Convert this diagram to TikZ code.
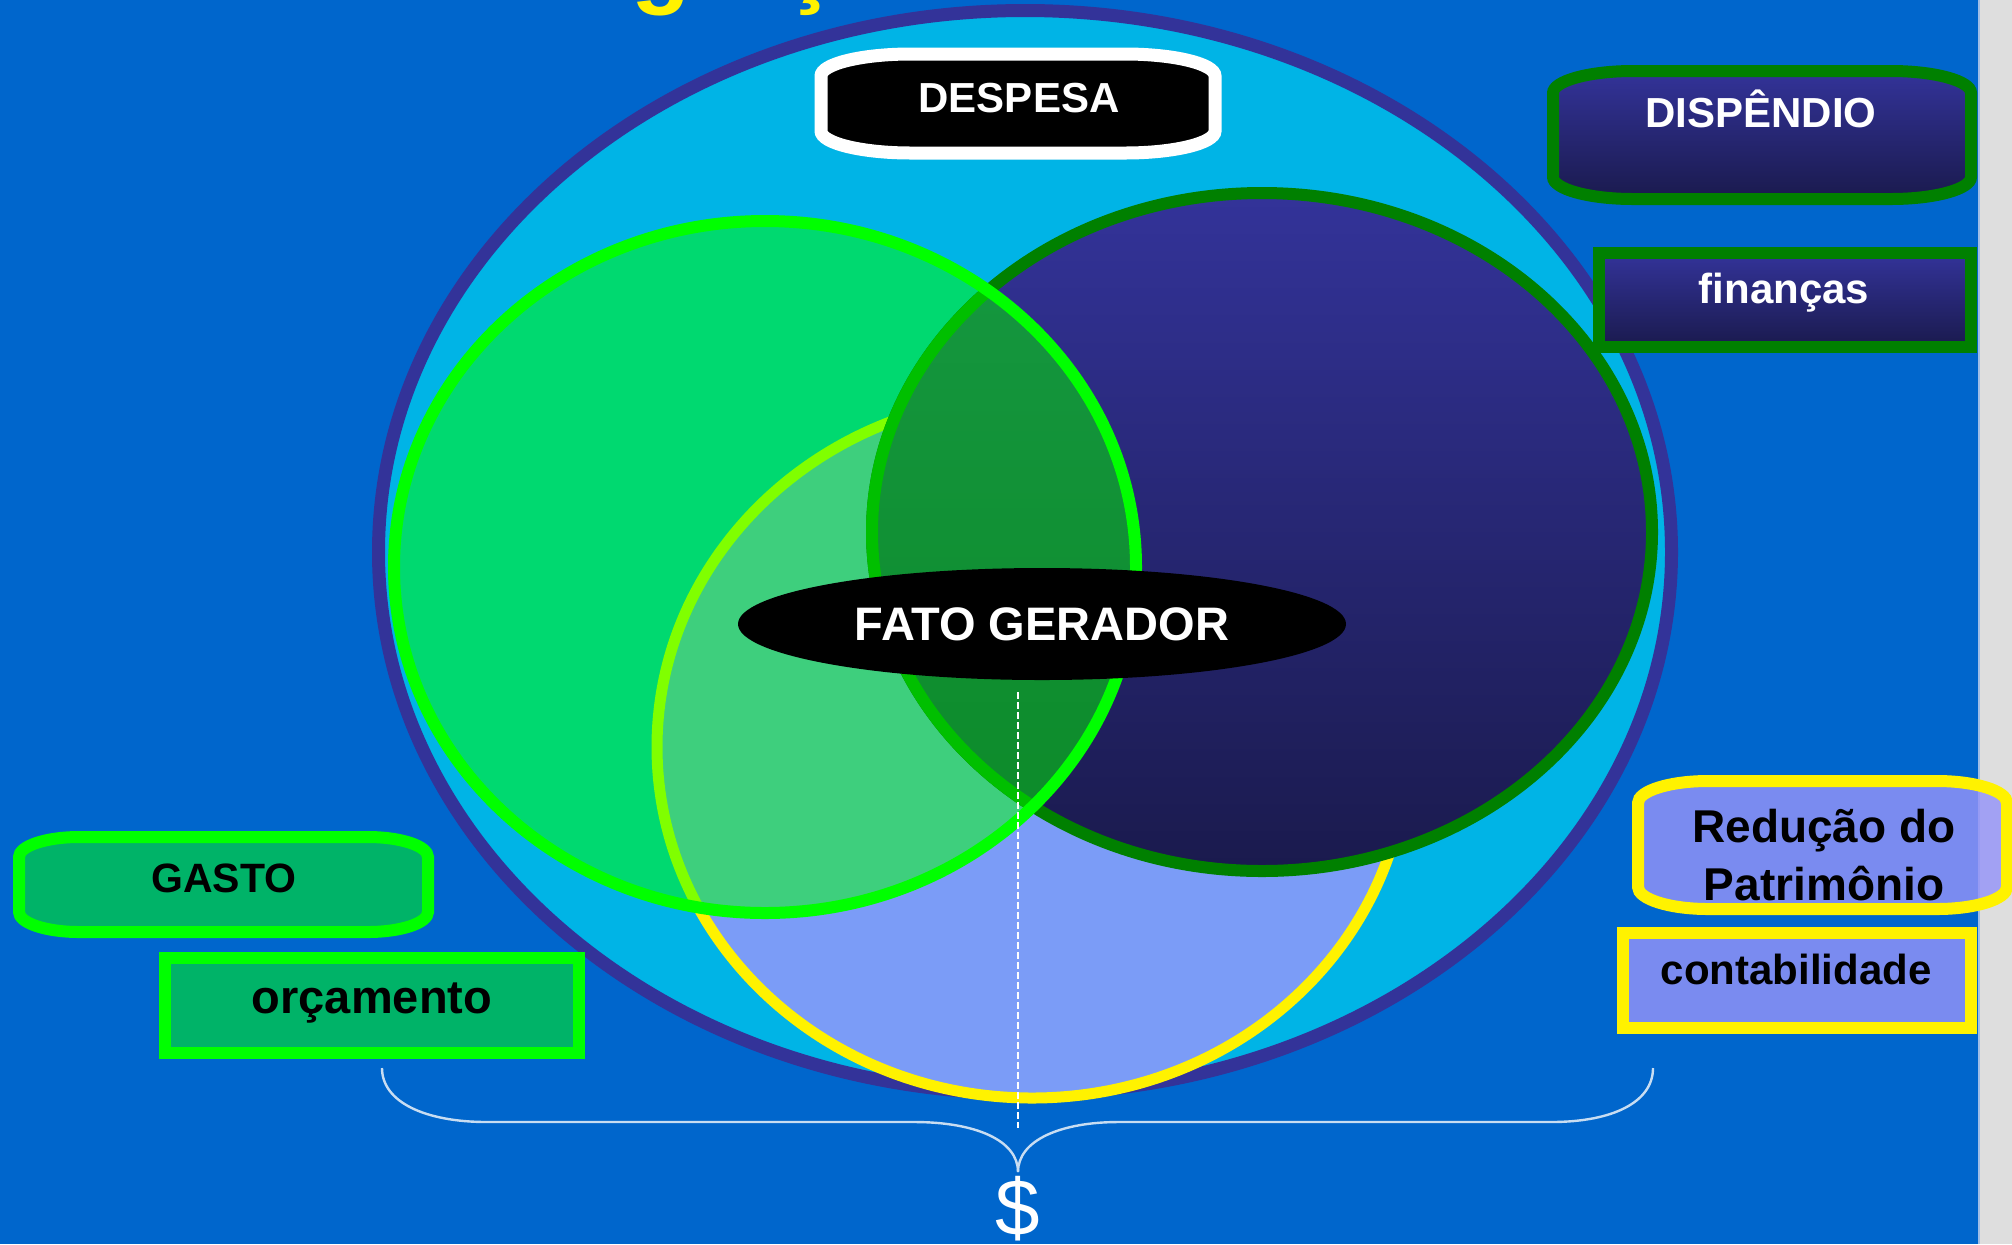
\documentclass[tikz,border=0pt]{standalone}
\usepackage{fontspec}
\setmainfont{Liberation Sans}
\usetikzlibrary{shapes.geometric}
\definecolor{bgblue}{HTML}{0066CC}
\definecolor{stripgray}{HTML}{DEDEDE}
\definecolor{stripline}{HTML}{A0BEE6}
\definecolor{outerfill}{HTML}{00B4E6}
\definecolor{outerline}{HTML}{333399}
\definecolor{lowfill}{HTML}{7B9CF7}
\definecolor{greenfill}{HTML}{00D970}
\definecolor{mixfill}{HTML}{3ECF7D}
\definecolor{mixline}{HTML}{80FF00}
\definecolor{darktop}{HTML}{333399}
\definecolor{darkbot}{HTML}{1A1A4D}
\definecolor{darkline}{HTML}{008000}
\definecolor{lenstop}{HTML}{169842}
\definecolor{lensbot}{HTML}{0C8A28}
\definecolor{lensline}{HTML}{00BF00}
\definecolor{limeg}{HTML}{00FF00}
\definecolor{boxgreen}{HTML}{00B368}
\definecolor{boxlav}{RGB}{150,148,248}
\definecolor{braceline}{HTML}{C8DDF2}
% pill shape: #1 options, (#2,#3) top-left, (#4,#5) bottom-right, #6 rx, #7 ry
\newcommand{\pillshape}[7]{%
  \path[#1] (#2,#3+#7)
    .. controls (#2,#3+0.45*#7) and (#2+0.45*#6,#3) .. (#2+#6,#3)
    -- (#4-#6,#3)
    .. controls (#4-0.45*#6,#3) and (#4,#3+0.45*#7) .. (#4,#3+#7)
    -- (#4,#5-#7)
    .. controls (#4,#5-0.45*#7) and (#4-0.45*#6,#5) .. (#4-#6,#5)
    -- (#2+#6,#5)
    .. controls (#2+0.45*#6,#5) and (#2,#5-0.45*#7) .. (#2,#5-#7)
    -- cycle;}
\begin{document}
\begin{tikzpicture}[x=0.5pt,y=-0.5pt,
  lbl/.style={inner sep=0pt, anchor=base, font=\bfseries\fontsize{21pt}{25pt}\selectfont},
  greenbox/.style={fill=boxgreen, draw=limeg, line width=6pt},
  darkbox/.style={top color=darktop, bottom color=darkbot, draw=darkline, line width=6pt},
  lavbox/.style={fill=boxlav, fill opacity=0.82, draw=yellow, draw opacity=1, line width=6pt},
  bracestyle/.style={draw=braceline, line width=1.2pt}]
\useasboundingbox (0,0) rectangle (2012,1244);
\clip (0,0) rectangle (2012,1244);
\fill[bgblue] (0,0) rectangle (2012,1244);
\fill[stripgray] (1979,0) rectangle (2012,1244);
\draw[stripline, line width=0.6pt] (1979,0) -- (1979,1244);

% outer ellipse
\path[fill=outerfill, draw=outerline, line width=6.5pt] (1025,552) ellipse [x radius=646.5, y radius=541.5];
% lower circle
\path[fill=lowfill, draw=yellow, line width=5.5pt] (1032,747) ellipse [x radius=375, y radius=351];
% green circle fill
\path[fill=greenfill] (765,567) ellipse [x radius=371, y radius=346];
\begin{scope}
  \clip (765,567) ellipse [x radius=371, y radius=346];
  \path[fill=mixfill, draw=mixline, line width=5.5pt] (1032,747) ellipse [x radius=375, y radius=351];
\end{scope}
% dark ellipse
\path[top color=darktop, bottom color=darkbot, draw=darkline, line width=6pt] (1262,532) ellipse [x radius=390, y radius=339];
\begin{scope}
  \clip (765,567) ellipse [x radius=371, y radius=346];
  \path[top color=lenstop, bottom color=lensbot, draw=lensline, line width=6pt] (1262,532) ellipse [x radius=390, y radius=339];
\end{scope}
% green circle border
\draw[limeg, line width=6pt] (765,567) ellipse [x radius=371, y radius=346];

% FATO GERADOR
\node[ellipse, fill=black, minimum width=304pt, minimum height=56pt, inner sep=0pt,
      text=white, font=\bfseries\fontsize{23.5pt}{28pt}\selectfont] (fato) at (1042,624) {FATO GERADOR};

% dashed line
\coordinate (dtop) at (1018,692);
\coordinate (dbot) at (1018,1128);
\draw[white, line width=1.4pt, dash pattern=on 3.5pt off 1.5pt] (dtop) -- (dbot);

% brace
\coordinate (bl) at (382,1068);
\coordinate (tip) at (1018,1172);
\coordinate (br) at (1653,1068);
\draw[bracestyle] (bl) .. controls (382,1102) and (425,1122) .. (487,1122) -- (914,1122)
   .. controls (975,1122) and (1018,1140) .. (tip);
\draw[bracestyle] (tip) .. controls (1018,1140) and (1061,1122) .. (1119,1122) -- (1551,1122)
   .. controls (1613,1122) and (1653,1102) .. (br);
\node[inner sep=0pt, anchor=base, text=white, font=\fontsize{40pt}{40pt}\selectfont] (dollar) at (1018,1235) {\$};

% DESPESA
\pillshape{fill=black, draw=white, line width=6.5pt}{821}{54}{1215}{153}{90}{22}
\node[lbl, text=white] (despesa) at (1019,112) {DESPESA};

% DISPENDIO
\pillshape{darkbox}{1553}{71}{1971}{199}{80}{22}
\node[lbl, text=white] (dispendio) at (1761,127) {DISPÊNDIO};
% financas
\path[darkbox] (1599,253) rectangle (1971,347);
\node[lbl, text=white] (financas) at (1784,303) {finanças};

% Reducao do Patrimonio
\pillshape{lavbox}{1638}{781}{2007}{909}{70}{22}
\node[lbl, font=\bfseries\fontsize{23pt}{28pt}\selectfont] (red1) at (1824,842) {Redução do};
\node[lbl, font=\bfseries\fontsize{23pt}{28pt}\selectfont] (red2) at (1824,900) {Patrimônio};
% contabilidade
\path[lavbox] (1623,933) rectangle (1971,1028);
\node[lbl] (contab) at (1796,984) {contabilidade};

% GASTO
\pillshape{greenbox}{19}{837}{428}{932}{60}{20}
\node[lbl, font=\bfseries\fontsize{20.5pt}{25pt}\selectfont] (gasto) at (224,892) {GASTO};
% orcamento
\path[greenbox] (165,958) rectangle (579,1053);
\node[lbl, font=\bfseries\fontsize{23.5pt}{28pt}\selectfont] (orcamento) at (372,1013) {orçamento};

% title (cut off at the top)
\node[inner sep=0pt, anchor=base west, text=yellow, font=\bfseries\fontsize{48.5pt}{50pt}\selectfont] (title) at (459,-5) {Integração};
\end{tikzpicture}
\end{document}
